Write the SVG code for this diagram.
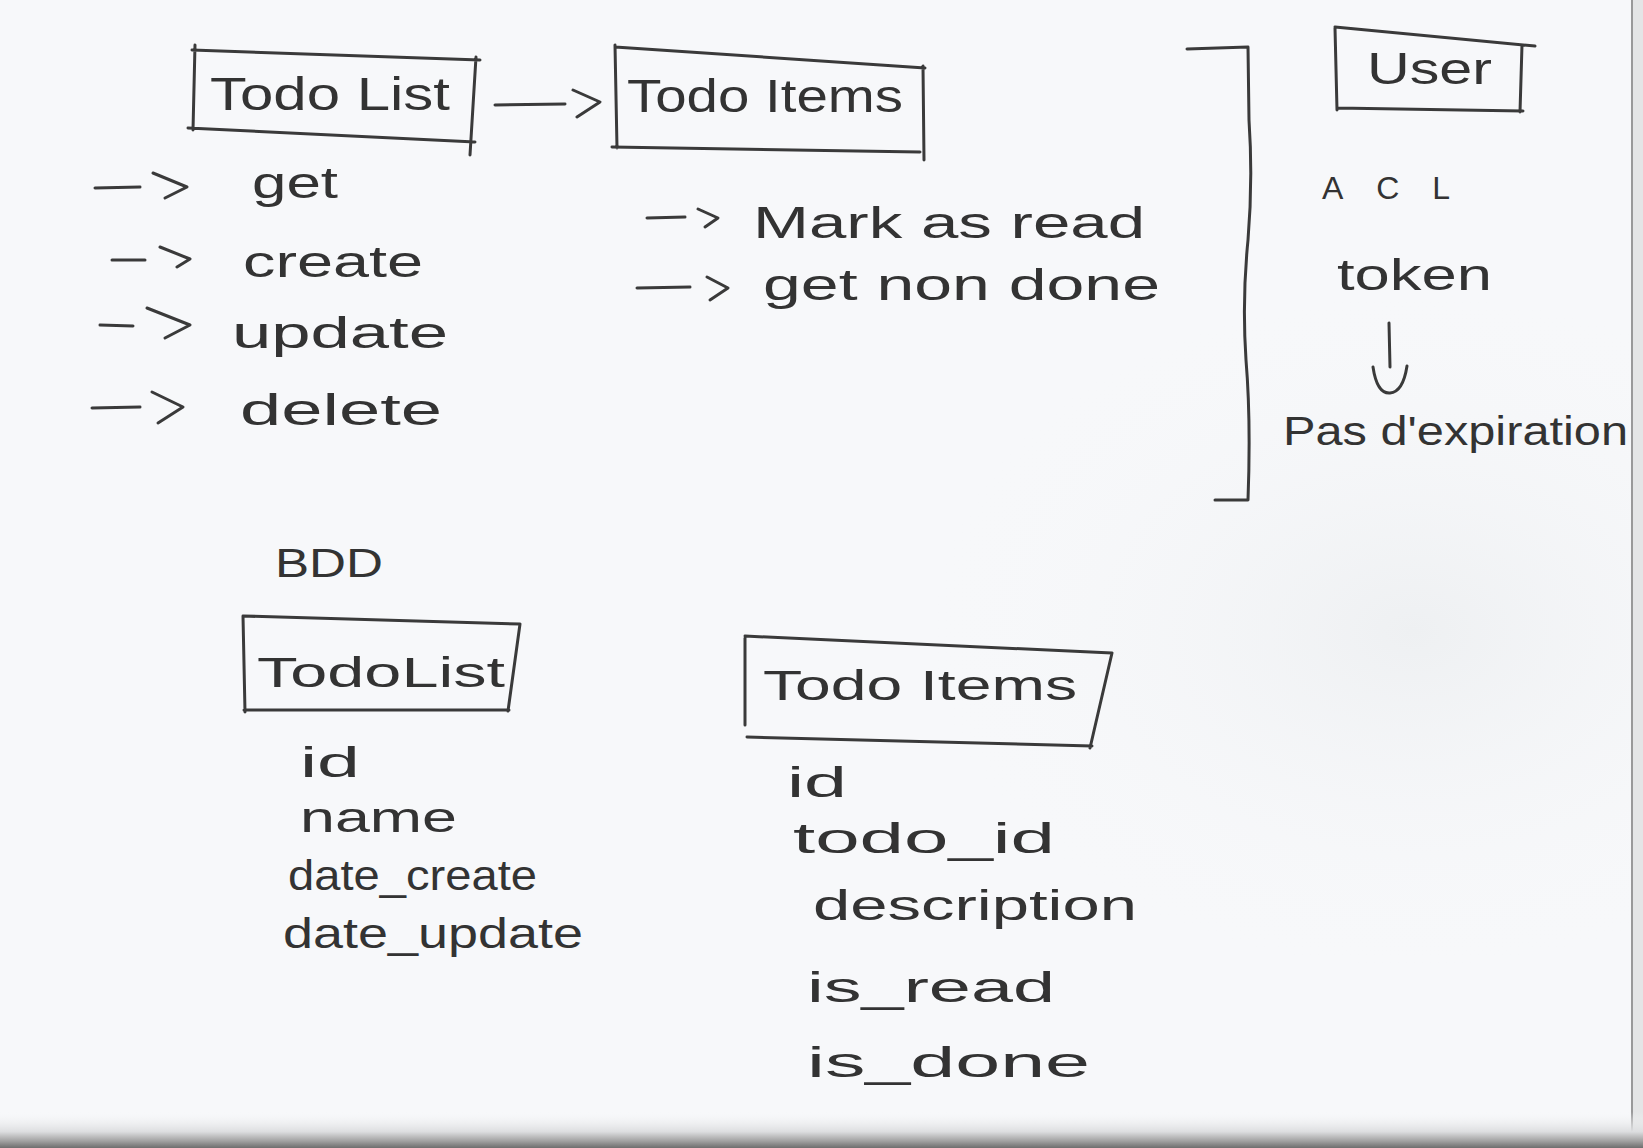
<svg xmlns="http://www.w3.org/2000/svg" width="1643" height="1148" viewBox="0 0 1643 1148">
<style>
  .ink { fill: none; stroke: #3a3a3a; stroke-width: 3; stroke-linecap: round; stroke-linejoin: round; }
  .hw { font-family: "Liberation Sans", "DejaVu Sans", sans-serif; fill: #333; font-size: 44px; }
  .lbl { font-size: 46px; }
  .fld { font-size: 42px; }
</style>
<defs>
  <linearGradient id="bottomBand" x1="0" y1="0" x2="0" y2="1">
    <stop offset="0" stop-color="#f6f7f8" stop-opacity="0"/>
    <stop offset="0.55" stop-color="#dcdddf"/>
    <stop offset="0.8" stop-color="#a3a3a3"/>
    <stop offset="1" stop-color="#6e6e6e"/>
  </linearGradient>
  <radialGradient id="shade" cx="0.86" cy="0.55" r="0.3">
    <stop offset="0" stop-color="#eef0f2"/>
    <stop offset="1" stop-color="#f7f8fa" stop-opacity="0"/>
  </radialGradient>
</defs>

<!-- paper -->
<rect x="0" y="0" width="1643" height="1148" fill="#f7f8fa"/>
<rect x="0" y="0" width="1643" height="1148" fill="url(#shade)"/>
<rect x="1633" y="0" width="10" height="1148" fill="#e4e5e6"/>
<line x1="1632" y1="0" x2="1632" y2="1148" stroke="#7a7a7a" stroke-width="1.5"/>
<rect x="0" y="1112" width="1643" height="36" fill="url(#bottomBand)"/>

<!-- Top: Todo List node -->
<g id="todo-list">
  <path class="ink" d="M195,45 L193,130 M192,50 L480,60 M476,57 L470,155 M188,128 L475,142"/>
  <text class="hw lbl" x="210" y="110" textLength="240" lengthAdjust="spacingAndGlyphs">Todo List</text>
</g>

<!-- Top: Todo Items node -->
<g id="todo-items">
  <path class="ink" d="M615,45 L617,148 M615,47 L925,68 M923,66 L924,160 M612,147 L920,152"/>
  <text class="hw lbl" x="627" y="112" textLength="276" lengthAdjust="spacingAndGlyphs">Todo Items</text>
</g>

<!-- Todo List operations -->
<g id="todo-list-ops">
  <text class="hw" x="252" y="198" textLength="86" lengthAdjust="spacingAndGlyphs">get</text>
  <text class="hw" x="243" y="277" textLength="180" lengthAdjust="spacingAndGlyphs">create</text>
  <text class="hw" x="232" y="348" textLength="216" lengthAdjust="spacingAndGlyphs">update</text>
  <text class="hw" x="240" y="425" textLength="202" lengthAdjust="spacingAndGlyphs">delete</text>
</g>

<!-- Todo Items operations -->
<g id="todo-items-ops">
  <text class="hw" x="753" y="238" textLength="392" lengthAdjust="spacingAndGlyphs">Mark as read</text>
  <text class="hw" x="763" y="300" textLength="397" lengthAdjust="spacingAndGlyphs">get non done</text>
</g>

<!-- User node -->
<g id="user">
  <path class="ink" d="M1335,28 L1337,110 M1335,27 L1535,46 M1522,45 L1520,112 M1337,108 L1523,111"/>
  <text class="hw" x="1367" y="84" textLength="125" lengthAdjust="spacingAndGlyphs">User</text>
</g>

<g id="user-details">
  <text class="hw" x="1322" y="199" textLength="128" lengthAdjust="spacing" style="font-size:32px">ACL</text>
  <text class="hw" x="1337" y="290" textLength="155" lengthAdjust="spacingAndGlyphs">token</text>
  <text class="hw" x="1283" y="445" textLength="345" lengthAdjust="spacingAndGlyphs" style="font-size:40px">Pas d'expiration</text>
</g>

<!-- BDD section -->
<g id="bdd-title">
  <text class="hw" x="275" y="577" textLength="108" lengthAdjust="spacingAndGlyphs" style="font-size:40px">BDD</text>
</g>

<g id="bdd-todolist">
  <path class="ink" d="M243,616 L245,712 M243,616 L520,624 M520,624 L508,711 M244,710 L509,710"/>
  <text class="hw fld" x="257" y="687" textLength="248" lengthAdjust="spacingAndGlyphs">TodoList</text>
  <text class="hw fld" x="300" y="777" textLength="60" lengthAdjust="spacingAndGlyphs">id</text>
  <text class="hw fld" x="300" y="832" textLength="157" lengthAdjust="spacingAndGlyphs">name</text>
  <text class="hw fld" x="288" y="890" textLength="249" lengthAdjust="spacingAndGlyphs">date_create</text>
  <text class="hw fld" x="283" y="948" textLength="300" lengthAdjust="spacingAndGlyphs">date_update</text>
</g>

<g id="bdd-todoitems">
  <path class="ink" d="M745,638 L745,725 M745,636 L1112,653 M1112,653 L1090,748 M747,737 L1092,746"/>
  <text class="hw fld" x="763" y="700" textLength="314" lengthAdjust="spacingAndGlyphs">Todo Items</text>
  <text class="hw fld" x="787" y="797" textLength="60" lengthAdjust="spacingAndGlyphs">id</text>
  <text class="hw fld" x="793" y="853" textLength="262" lengthAdjust="spacingAndGlyphs">todo_id</text>
  <text class="hw fld" x="813" y="920" textLength="324" lengthAdjust="spacingAndGlyphs">description</text>
  <text class="hw fld" x="807" y="1002" textLength="248" lengthAdjust="spacingAndGlyphs">is_read</text>
  <text class="hw fld" x="807" y="1077" textLength="283" lengthAdjust="spacingAndGlyphs">is_done</text>
</g>

<!-- Connectors -->
<g id="connectors">
  <!-- Todo List -> Todo Items -->
  <path class="ink" d="M495,105 L565,104 M573,90 L600,102 L577,117"/>
  <!-- bullet arrows, Todo List ops -->
  <path class="ink" d="M95,188 L140,187 M153,173 L187,187 L165,198"/>
  <path class="ink" d="M112,260 L145,260 M160,247 L190,259 L177,267"/>
  <path class="ink" d="M100,325 L133,326 M147,308 L190,325 L165,338"/>
  <path class="ink" d="M92,408 L140,407 M152,392 L183,407 L158,423"/>
  <!-- bullet arrows, Todo Items ops -->
  <path class="ink" d="M647,218 L685,217 M698,209 L718,218 L705,227"/>
  <path class="ink" d="M637,288 L690,287 M707,277 L728,288 L710,300"/>
  <!-- bracket grouping -->
  <path class="ink" d="M1187,49 L1248,47 L1249,120 Q1253,180 1248,240 Q1242,300 1246,360 Q1251,420 1248,500 L1215,500"/>
  <!-- token -> expiration -->
  <path class="ink" d="M1389,323 L1390,367 M1373,367 Q1377,394 1390,393 Q1403,392 1407,366"/>
</g>
</svg>
